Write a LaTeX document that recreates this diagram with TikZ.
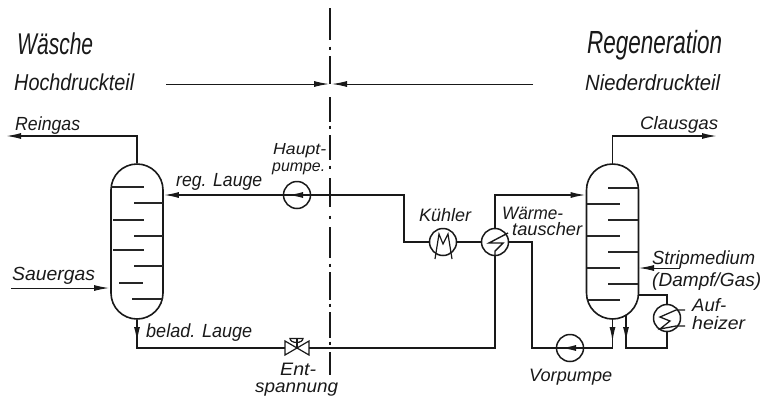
\documentclass[tikz,border=0pt]{standalone}
\usepackage{fontspec}
\setmainfont{Liberation Sans}
\usetikzlibrary{arrows.meta}
\tikzset{
  proc/.style={line width=1.5pt,line join=miter,color=black!90},
  thinl/.style={line width=1pt,color=black!90},
  tip/.style={-{Latex[length=15pt,width=6pt]}},
  col/.style={draw,line width=1.6pt,rounded corners=26pt,minimum width=52pt,minimum height=155pt,inner sep=0pt,color=black!90},
  apparat/.style={circle,draw,line width=1.5pt,minimum size=27pt,inner sep=0pt,color=black!90},
  tray/.style={line width=1.1pt,color=black!85},
  sep/.style={line width=1.3pt,color=black!90},
  lbl/.style={anchor=base west,inner sep=0pt,text=black!90}
}
\newcommand{\lab}[6]{\node[lbl] (#1) at (#2,#3) {\resizebox{#4pt}{\height}{\fontsize{#5}{#5}\selectfont\itshape #6}};}
\begin{document}
\begin{tikzpicture}[x=1pt,y=-1pt]
\useasboundingbox (0,0) rectangle (763,397);
% separator
\foreach \a/\b in {8/40,56/84,97/122,135/160,178/207,227/258,272/300,312/338,352/375}
  \draw[sep] (330,\a) -- (330,\b);
\foreach \d in {48,127,167,217,265,305,343}
  \draw[sep] (330,\d-1.5) -- (330,\d+1.5);
% dimension line
\coordinate (dimL) at (166,84);
\coordinate (dimM) at (329,84);
\coordinate (dimN) at (332,84);
\coordinate (dimR) at (533,84);
\draw[thinl,tip] (dimL) -- (dimM);
\draw[thinl,tip] (dimR) -- (dimN);
% columns
\node[col] (colL) at (137,241.5) {};
\node[col] (colR) at (612.5,241.5) {};
% trays
\foreach \y/\a/\b in {187/111/144,203/134/163,220/113/144,236/134/163,250/113/144,266/134/163,283/119/143,299/132/163}
  \draw[tray] (\a,\y) -- (\b,\y);
\foreach \y/\a/\b in {188/608/638,204/587/620,220/608/638,236/587/620,252/608/638,268/587/620,284/608/638,300/587/620}
  \draw[tray] (\a,\y) -- (\b,\y);
% apparatus
\node[apparat] (hp) at (297,195) {};
\node[apparat] (kuehl) at (443,242) {};
\node[apparat] (wt) at (495,242) {};
\node[apparat] (vp) at (570,348) {};
\node[apparat] (auf) at (667,318) {};
% valve
\coordinate (vL) at (285,348);
\coordinate (vR) at (309,348);
\coordinate (vC) at (297,348);
\draw[line width=1.2pt,color=black!90] (285,341) -- (309,355) -- (309,341) -- (285,355) -- cycle;
\draw[line width=1.2pt,color=black!90] (vC) -- (297,338);
\draw[line width=1.2pt,color=black!90] (290,338.5) arc[start angle=180,end angle=0,x radius=6.5,y radius=4] -- cycle;
% Reingas
\coordinate (rg) at (6,136);
\draw[proc,tip] (colL.north) |- (rg);
% Clausgas
\coordinate (cg) at (717,136);
\draw[proc,tip] (colR.north) |- (cg);
% Sauergas
\coordinate (sg) at (11,288);
\draw[thinl,tip] (sg) -- (109,288);
% regenerated liquor
\coordinate (k1) at (404,195);
\draw[proc,tip] (hp.west) -- (colL.east |- hp);
\draw[proc] (hp.east) -- (k1) |- (kuehl.west);
\draw[proc] (hp.east) -- (hp.west);
\coordinate (hpT) at (288,195);
\coordinate (hpB) at (306,195);
\draw[proc,tip] (hpB) -- (hpT);
\draw[proc] (kuehl.east) -- (wt.west);
\draw[proc,tip] (wt.north) |- (colR.west |- 0,195);
% loaded liquor
\coordinate (bl) at (137,348);
\draw[proc] (colL.south) -- (bl) -- (vL);
\coordinate (blT) at (137,342);
\draw[proc,tip] (colL.south) -- (blT);
\draw[proc] (vR) -| (wt.south);
% Vorpumpe line
\coordinate (w2) at (532,242);
\coordinate (vb) at (532,348);
\draw[proc] (wt.east) -- (w2) -- (vb) -- (vp.west);
\coordinate (o1) at (612.5,348);
\draw[proc] (vp.east) -- (o1) -- (colR.south);
\draw[proc] (vp.west) -- (vp.east);
\coordinate (vpT) at (561,348);
\coordinate (vpB) at (579,348);
\draw[proc,tip] (vpB) -- (vpT);
\coordinate (o1T) at (612.5,342);
\draw[proc,tip] (colR.south) -- (o1T);
% reboiler
\coordinate (o2t) at (626,315);
\coordinate (o2) at (626,348);
\coordinate (o2T) at (626,342);
\coordinate (ar) at (667,348);
\coordinate (at) at (667,295);
\coordinate (ac) at (638,295);
\draw[proc] (o2t) -- (o2) -- (ar) -- (auf.south);
\draw[proc,tip] (o2t) -- (o2T);
\draw[proc] (auf.north) -- (at) -- (ac);
% Stripmedium
\coordinate (sm) at (680,268);
\coordinate (smT) at (639,268);
\draw[thinl,tip] (sm) -- (smT);
% inner symbols
\draw[line width=1.2pt,color=black!90] (435,259) -- (439,234) -- (443,244) -- (448,234) -- (452,259);
\draw[line width=1.4pt,color=black!90] (508,233) -- (489,243) -- (503,243) -- (495,251) -- (495,256);
\draw[line width=1.3pt,color=black!90] (685,310) -- (676,310) -- (660,317) -- (670,321) -- (660,329) -- (676,326) -- (685,326);
% labels
\lab{t1}{17}{54}{76}{30}{Wäsche}
\lab{t2}{14}{90}{120}{23}{Hochdruckteil}
\lab{t3}{15}{130}{65}{19}{Reingas}
\lab{t4}{273}{154}{53}{16}{Haupt-}
\lab{t5}{272}{171}{53}{16}{pumpe.}
\lab{t6}{176}{186}{86}{19}{reg. Lauge}
\lab{t7}{12}{280}{83}{19}{Sauergas}
\lab{t8}{146}{337}{106}{19}{belad. Lauge}
\lab{t9}{280}{375}{36}{18}{Ent-}
\lab{t10}{255}{392}{83}{18}{spannung}
\lab{t11}{587}{53}{135}{32}{Regeneration}
\lab{t12}{585}{90}{135}{22}{Niederdruckteil}
\lab{t13}{640}{129}{78}{18}{Clausgas}
\lab{t14}{419}{221}{52}{18}{Kühler}
\lab{t15}{502}{219}{61}{18}{Wärme-}
\lab{t16}{512}{235}{70}{18}{tauscher}
\lab{t17}{652}{264}{103}{19}{Stripmedium}
\lab{t18}{652}{286}{109}{19}{(Dampf/Gas)}
\lab{t19}{692}{311}{34}{18}{Auf-}
\lab{t20}{692}{329}{53}{18}{heizer}
\lab{t21}{529}{381}{83}{18}{Vorpumpe}
\end{tikzpicture}
\end{document}
